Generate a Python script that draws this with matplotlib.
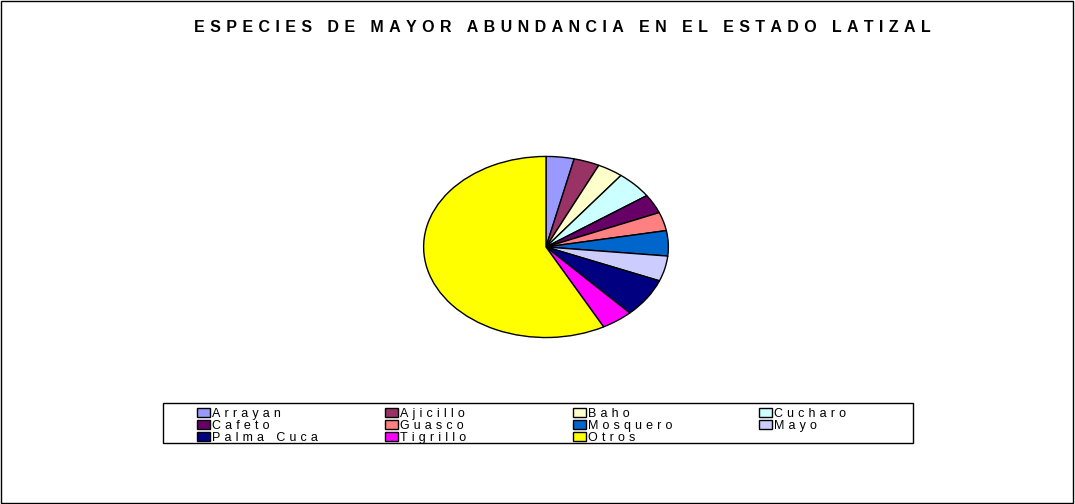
import matplotlib
matplotlib.use('Agg')
from matplotlib import pyplot as plt
from matplotlib.patches import Rectangle

plt.rcParams['font.family'] = ['Liberation Sans', 'DejaVu Sans']

# data (percent of individuals)
especies = ['Arrayan', 'Ajicillo', 'Baho', 'Cucharo', 'Cafeto', 'Guasco',
            'Mosquero', 'Mayo', 'Palma Cuca', 'Tigrillo', 'Otros']
abundancia = [3.7, 3.4, 3.4, 4.9, 3.4, 3.3, 4.5, 4.5, 6.9, 4.2, 57.8]
colores = ['#9999FF', '#993366', '#FFFFCC', '#CCFFFF', '#660066', '#FF8080',
           '#0066CC', '#CCCCFF', '#000080', '#FF00FF', '#FFFF00']
titulo = 'ESPECIES DE MAYOR ABUNDANCIA EN EL ESTADO LATIZAL'

SP = '\u2004'  # three-per-em space, used as letter spacing


# the original export draws text with wide letter spacing
def spaced(s, word_gap):
    return word_gap.join(SP.join(w) for w in s.split(' '))


fig = plt.figure(figsize=(10.75, 5.04), dpi=100)
fig.patches.append(Rectangle((0.001, 0.002), 0.997, 0.996, transform=fig.transFigure,
                             fill=False, edgecolor='black', linewidth=1))

fig.text(0.5233, 0.946, spaced(titulo, SP + ' ' + SP), ha='center', va='center',
         fontsize=11.5, fontweight='bold')

ax = fig.add_axes([0.3935, 0.3294, 0.2288, 0.3611])
wedges, _ = ax.pie(abundancia, colors=colores, startangle=90, counterclock=False,
                   wedgeprops=dict(edgecolor='black', linewidth=1))
ax.set_aspect('auto')
ax.set_xlim(-1.005, 1.005)
ax.set_ylim(-1.005, 1.005)
ax.axis('off')

# legend frame
fig.patches.append(Rectangle((163 / 1075, 1 - 443 / 504), 750 / 1075, 40 / 504,
                             transform=fig.transFigure, fill=False,
                             edgecolor='black', linewidth=1))

# four legend columns, filled row by row like the original
col_x = [197, 385, 573, 759]
for c in range(4):
    idx = list(range(c, len(especies), 4))
    leg = fig.legend([wedges[i] for i in idx], [spaced(especies[i], SP * 3) for i in idx],
                     loc='upper left', bbox_to_anchor=(col_x[c] / 1075, 1 - 408 / 504),
                     frameon=False, fontsize=9, handlelength=1.0, handleheight=0.7,
                     handletextpad=0.2, labelspacing=0.0, borderpad=0,
                     borderaxespad=0)
    for h in leg.legend_handles:
        h.set_linewidth(1)

fig.savefig('out.png', dpi=100)
